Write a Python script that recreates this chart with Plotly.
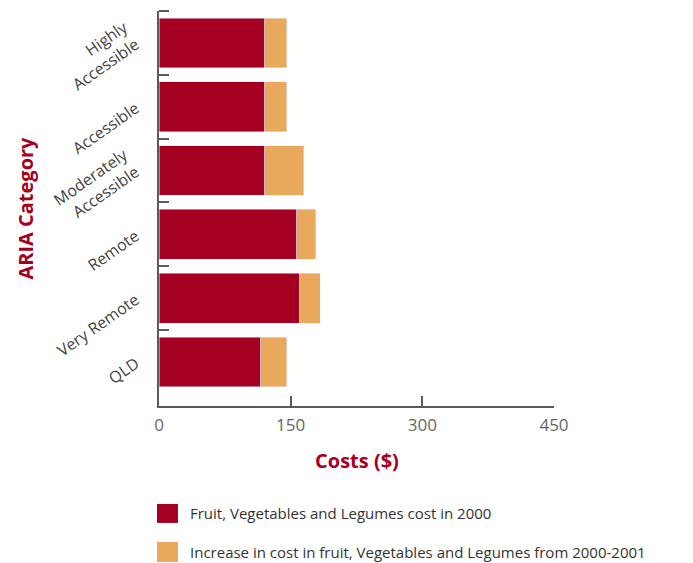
import plotly.graph_objects as go

categories = ["Highly<br>Accessible", "Accessible", "Moderately<br>Accessible",
              "Remote", "Very Remote", "QLD"]
cost_2000 = [120.5, 120.5, 120.5, 157, 160, 116]
increase_2001 = [25, 25, 44.5, 21.5, 23.5, 29.5]
series_names = ["Fruit, Vegetables and Legumes cost in 2000",
                "Increase in cost in fruit, Vegetables and Legumes from 2000-2001"]
x_ticks = [0, 150, 300, 450]

RED = "#a50021"
ORANGE = "#e8a95c"
GRAY = "#5a5a5a"
FONT = "Open Sans"

pos = list(range(len(categories)))
boundaries = [p - 0.5 for p in pos]

fig = go.Figure()
fig.add_trace(go.Bar(y=pos, x=cost_2000, orientation="h", marker_color=RED,
                     width=0.78, name=series_names[0], showlegend=False))
fig.add_trace(go.Bar(y=pos, x=increase_2001, orientation="h", marker_color=ORANGE,
                     width=0.78, name=series_names[1], showlegend=False))

fig.update_layout(
    barmode="stack",
    width=693, height=563,
    margin=dict(l=159, r=139, t=11, b=157),
    plot_bgcolor="white", paper_bgcolor="white",
    font=dict(family=FONT, color=GRAY),
)
fig.update_xaxes(range=[0, 450], tickvals=x_ticks, ticktext=[str(v) for v in x_ticks],
                 ticks="inside", ticklen=10, tickwidth=2, tickcolor=GRAY,
                 showline=True, linecolor=GRAY, linewidth=2, showgrid=False, zeroline=False,
                 tickfont=dict(size=17, color="#666666"), ticklabelstandoff=3)
fig.update_yaxes(range=[5.69, -0.5], tickvals=pos, ticktext=categories,
                 ticks="", tickangle=-35, ticklabelstandoff=18,
                 tickfont=dict(size=16, color="#444444"),
                 minor=dict(tickvals=boundaries, ticks="inside", ticklen=10,
                            tickwidth=2, tickcolor=GRAY, showgrid=False),
                 showline=True, linecolor=GRAY, linewidth=2, showgrid=False, zeroline=False)

# axis titles
fig.add_annotation(text="<b>ARIA Category</b>", xref="paper", yref="paper",
                   x=-0.339, y=0.5, xanchor="center", yanchor="middle",
                   textangle=-90, showarrow=False,
                   font=dict(size=20, color=RED, family=FONT))
fig.add_annotation(text="<b>Costs ($)</b>", xref="paper", yref="paper",
                   x=0.5, y=-0.137, xanchor="center", yanchor="middle", showarrow=False,
                   font=dict(size=20, color=RED, family=FONT))

# custom legend
leg_rows = [(-0.296, -0.248, -0.272), (-0.395, -0.344, -0.370)]
for name, color, (y0, y1, yc) in zip(series_names, [RED, ORANGE], leg_rows):
    fig.add_shape(type="rect", xref="paper", yref="paper", x0=-0.005, x1=0.048,
                  y0=y0, y1=y1, fillcolor=color, line=dict(width=0))
    fig.add_annotation(text=name, xref="paper", yref="paper", x=0.073, y=yc,
                       xanchor="left", yanchor="middle", showarrow=False,
                       font=dict(size=15, color="#333333", family=FONT))

fig.write_html("out.html")
